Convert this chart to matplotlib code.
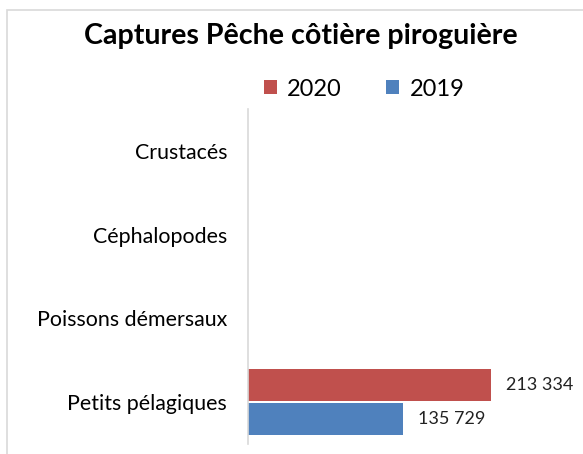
import numpy as np
import matplotlib.pyplot as plt
from matplotlib.patches import Rectangle

plt.rcParams['font.family'] = ['Lato', 'DejaVu Sans']

# Catch per species group, bottom to top
categories = ['Petits pélagiques', 'Poissons démersaux', 'Céphalopodes', 'Crustacés']
captures_2020 = [213334, 0, 0, 0]
captures_2019 = [135729, 0, 0, 0]

red = '#c0504d'
blue = '#4f81bd'


def fmt(v):
    return f'{v:,}'.replace(',', ' ')


fig = plt.figure(figsize=(5.83, 4.54), dpi=100)
ax = fig.add_axes([248 / 583, 1 - 444 / 454, (560 - 248) / 583, (444 - 109) / 454])

y = np.arange(len(categories))
h = 0.38
bars20 = ax.barh(y + 0.2, captures_2020, height=h, color=red, label='2020')
bars19 = ax.barh(y - 0.2, captures_2019, height=h, color=blue, label='2019')

# value labels only where there is a catch
for bars, vals in ((bars20, captures_2020), (bars19, captures_2019)):
    for b, v in zip(bars, vals):
        if v:
            ax.annotate(fmt(v), (v, b.get_y() + b.get_height() / 2),
                        xytext=(11, 0), textcoords='offset points',
                        va='center', ha='left', fontsize=13, color='#222222')

ax.set_xlim(0, 274000)
ax.set_ylim(-0.5, len(categories) - 0.5)
ax.set_yticks(y)
ax.set_yticklabels(categories, fontsize=15.4)
ax.tick_params(axis='y', length=0, pad=15)
ax.set_xticks([])
for s in ('top', 'right', 'bottom'):
    ax.spines[s].set_visible(False)
ax.spines['left'].set_color('#d9d9d9')
ax.spines['left'].set_linewidth(1.2)

fig.text(301 / 583, 1 - 36 / 454, 'Captures Pêche côtière piroguière',
         ha='center', va='center', fontsize=20.6, fontweight='bold')

fig.legend(handles=[bars20, bars19], loc='center', bbox_to_anchor=(364 / 583, 1 - 89 / 454),
           ncol=2, frameon=False, fontsize=17, handlelength=0.55, handleheight=0.55,
           handletextpad=0.45, columnspacing=1.85)

# light frame around the chart area
fig.patches.append(Rectangle((7 / 583, -0.05), 1.0, 1 - 10 / 454 + 0.05,
                             transform=fig.transFigure, fill=False,
                             edgecolor='#d9d9d9', linewidth=1.2))

fig.savefig('out.png', dpi=100)
